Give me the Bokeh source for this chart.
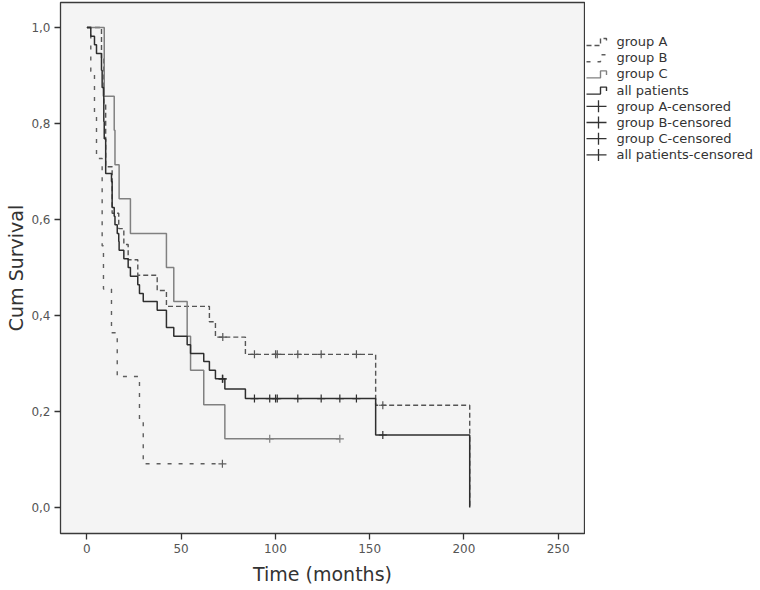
from bokeh.plotting import figure
from bokeh.layouts import row
from bokeh.models import Range1d, FixedTicker, CustomJSTickFormatter
from bokeh.core.properties import value
from bokeh.embed import file_html
from bokeh.resources import INLINE

# ---------------- data ----------------
x_ticks = [0, 50, 100, 150, 200, 250]
y_ticks = [0.0, 0.2, 0.4, 0.6, 0.8, 1.0]

# group A
A_times = [0, 7.75, 8.97, 9.97, 13.4, 16.9, 19.6, 21.9, 27.0, 37.3, 42.2, 65.0,
           68.2, 84.1, 153.2, 203.1]
A_surv = [1.0, 0.935, 0.839, 0.710, 0.613, 0.581, 0.548, 0.516, 0.484, 0.452,
          0.419, 0.387, 0.355, 0.319, 0.213, 0.0]
A_cens_t = [72.1, 88.9, 100.1, 101.0, 111.9, 124.3, 143.0, 157.0]
A_cens_s = [0.355, 0.319, 0.319, 0.319, 0.319, 0.319, 0.319, 0.213]

# group B
B_times = [0, 2.07, 4.03, 5.1, 8.1, 8.8, 13.05, 16.1, 27.9, 29.9]
B_surv = [1.0, 0.909, 0.818, 0.727, 0.545, 0.455, 0.364, 0.273, 0.182, 0.091]
B_cens_t = [71.9]
B_cens_s = [0.091]

# group C
C_times = [0, 9.2, 14.5, 14.9, 17.1, 23.1, 42.2, 46.1, 53.2, 55.0, 62.0, 73.2]
C_surv = [1.0, 0.857, 0.786, 0.714, 0.643, 0.571, 0.500, 0.429, 0.357, 0.286,
          0.214, 0.143]
C_cens_t = [97.0, 134.2]
C_cens_s = [0.143, 0.143]

# all patients
ALL_times = [0, 2.07, 4.03, 5.1, 7.75, 8.1, 8.8, 8.97, 9.2, 9.97, 13.05, 13.4,
             14.5, 14.9, 16.1, 16.9, 17.1, 19.6, 21.9, 23.1, 27.0, 27.9, 29.9,
             37.3, 42.2, 46.1, 53.2, 55.0, 62.0, 65.0, 68.2, 73.2, 84.1, 153.2,
             203.1]
ALL_surv = [1.0, 0.982, 0.964, 0.946, 0.911, 0.875, 0.857, 0.804, 0.768, 0.696,
            0.679, 0.625, 0.607, 0.589, 0.571, 0.554, 0.536, 0.518, 0.500,
            0.482, 0.464, 0.446, 0.429, 0.411, 0.375, 0.357, 0.339, 0.321,
            0.304, 0.286, 0.268, 0.247, 0.227, 0.151, 0.0]
ALL_cens_t = [71.9, 72.1, 88.9, 97.0, 100.1, 101.0, 111.9, 124.3, 134.2, 143.0,
              157.0]
ALL_cens_s = [0.268, 0.268, 0.227, 0.227, 0.227, 0.227, 0.227, 0.227, 0.227,
              0.227, 0.151]

labels = ["group A", "group B", "group C", "all patients",
          "group A-censored", "group B-censored", "group C-censored",
          "all patients-censored"]

# ---------------- styling ----------------
FONT = "DejaVu Sans"
COL_A = "#555555"
COL_B = "#5e5e5e"
COL_C = "#808080"
COL_ALL = "#2e2e2e"
DASH_A = "5 3"
DASH_B = "4 7"

TOP, BOTTOM = 2, 533          # frame edges in page pixels

p = figure(width=585, height=590, output_backend="svg", toolbar_location=None,
           x_range=Range1d(-14.0, 264.0), y_range=Range1d(-0.0542, 1.0521),
           min_border_left=60, min_border_right=1, min_border_top=TOP,
           min_border_bottom=590 - BOTTOM)
p.background_fill_color = "#f4f4f4"
p.border_fill_color = "white"
p.outline_line_color = "#3a3a3a"
p.outline_line_width = 1.3
p.grid.visible = False


def with_end(times, surv, cens):
    xs = list(times)
    ys = list(surv)
    if cens and cens[-1] > xs[-1]:
        xs.append(cens[-1])
        ys.append(ys[-1])
    return xs, ys


xa, ya = with_end(A_times, A_surv, A_cens_t)
xb, yb = with_end(B_times, B_surv, B_cens_t)
xc, yc = with_end(C_times, C_surv, C_cens_t)
xall, yall = with_end(ALL_times, ALL_surv, ALL_cens_t)

p.step(xa, ya, mode="after", line_color=COL_A, line_width=1.4,
       line_dash=DASH_A)
p.step(xb, yb, mode="after", line_color=COL_B, line_width=1.4,
       line_dash=DASH_B)
p.step(xc, yc, mode="after", line_color=COL_C, line_width=1.5)
p.step(xall, yall, mode="after", line_color=COL_ALL, line_width=1.5)

p.scatter(A_cens_t, A_cens_s, marker="cross", size=8, line_color=COL_A,
          line_width=1.2)
p.scatter(B_cens_t, B_cens_s, marker="cross", size=8, line_color=COL_B,
          line_width=1.2)
p.scatter(C_cens_t, C_cens_s, marker="cross", size=8, line_color=COL_C,
          line_width=1.2)
p.scatter(ALL_cens_t, ALL_cens_s, marker="cross", size=8, line_color=COL_ALL,
          line_width=1.2)

# axes
p.xaxis.ticker = FixedTicker(ticks=x_ticks)
p.yaxis.ticker = FixedTicker(ticks=y_ticks)
p.yaxis.formatter = CustomJSTickFormatter(
    code="return tick.toFixed(1).replace('.', ',');")
p.xaxis.axis_label = "Time (months)"
p.yaxis.axis_label = "Cum Survival"
for ax in (p.xaxis[0], p.yaxis[0]):
    ax.axis_line_color = None
    ax.major_tick_in = 0
    ax.major_tick_out = 6
    ax.minor_tick_line_color = None
    ax.major_tick_line_color = "#333333"
    ax.major_tick_line_width = 1.3
    ax.major_label_text_font = FONT
    ax.major_label_text_font_size = "12px"
    ax.major_label_text_color = "#555555"
    ax.axis_label_text_font = FONT
    ax.axis_label_text_font_size = "19px"
    ax.axis_label_text_font_style = "normal"
    ax.axis_label_text_color = "#333333"
p.xaxis.major_label_standoff = 4
p.xaxis.axis_label_standoff = 7
p.yaxis.major_label_standoff = 4
p.yaxis.axis_label_standoff = 1

# ---------------- legend panel (to the right of the frame) ----------------
# its frame is aligned with the main frame by the row layout, so the y range
# is given in page pixels between the frame edges
LW = 175
leg = figure(width=LW, height=590, output_backend="svg",
             toolbar_location=None, x_range=Range1d(0, LW),
             y_range=Range1d(BOTTOM, TOP), min_border=0)
leg.axis.visible = False
leg.grid.visible = False
leg.outline_line_color = None
leg.background_fill_color = "white"
leg.border_fill_color = "white"

Y0, DY = 41.0, 16.2
centers = [Y0 + DY * i for i in range(len(labels))]
styles = [(COL_A, DASH_A), (COL_B, DASH_B), (COL_C, "solid"),
          (COL_ALL, "solid")]
for i, (col, dash) in enumerate(styles):
    c = centers[i]
    leg.line([1, 15, 15, 21, 21], [c + 4, c + 4, c - 3, c - 3, c + 1],
             line_color=col, line_dash=dash, line_width=1.4)
for i in range(4, 8):
    c = centers[i]
    leg.line([1, 21], [c, c], line_color="#333333", line_width=1.3)
    leg.line([13, 13], [c - 6, c + 6], line_color="#333333", line_width=1.3)
leg.text([31] * len(labels), centers, text=labels, text_font=value(FONT),
         text_font_size="13px", text_color="#333333",
         text_baseline="middle", text_align="left")

layout = row(p, leg)
open("out.html", "w").write(file_html(layout, INLINE))
